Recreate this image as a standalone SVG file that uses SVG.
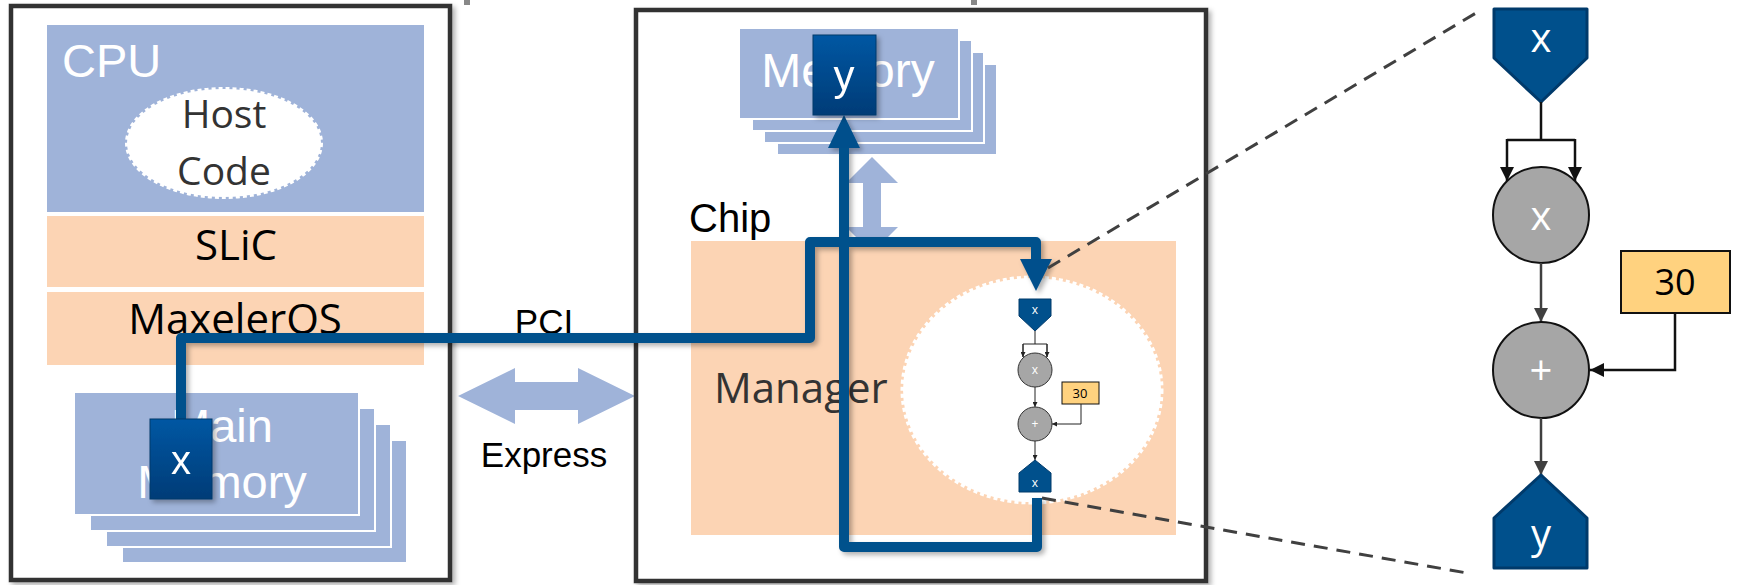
<svg xmlns="http://www.w3.org/2000/svg" width="1742" height="585" viewBox="0 0 1742 585">
<defs>
<style>
.box{fill:#fff;stroke:#333;stroke-width:4.5}
.lb{fill:#9FB3D9}
.peach{fill:#FCD4B4}
.mem{fill:#9FB3D9;stroke:#fff;stroke-width:2}
.ar{font-family:"Liberation Sans",Arial,sans-serif}
.cal{font-family:"Open Sans","Noto Sans",sans-serif}
.conn{fill:none;stroke:#00518C;stroke-width:10;stroke-linejoin:round}
.dash{fill:none;stroke:#404040;stroke-width:3;stroke-dasharray:14 9}
.pent{fill:#00508C;stroke:#003A6B;stroke-width:3;stroke-linejoin:round}
.pents{fill:#00508C;stroke:#003A6B;stroke-width:1;stroke-linejoin:round}
.op{fill:#A6A6A6;stroke:#111;stroke-width:2}
.ops{fill:#A6A6A6;stroke:#333;stroke-width:1}
.k{fill:#FFD27F;stroke:#111;stroke-width:2}
.ks{fill:#FFD27F;stroke:#111;stroke-width:1}
.e{fill:none;stroke:#111;stroke-width:2.5}
.eg{fill:none;stroke:#404040;stroke-width:2.5}
.es{fill:none;stroke:#222;stroke-width:1}
.blk{fill:#00508C}
.wt{fill:#fff}
</style>
<linearGradient id="bg" x1="0" y1="0" x2="0" y2="1"><stop offset="0" stop-color="#0057A3"/><stop offset="1" stop-color="#003C77"/></linearGradient>
<filter id="sh" x="-10%" y="-10%" width="130%" height="130%"><feDropShadow dx="3" dy="3" stdDeviation="2.5" flood-color="#000" flood-opacity="0.3"/></filter>
<marker id="ah" viewBox="0 0 10 10" refX="10" refY="5" markerUnits="userSpaceOnUse" markerWidth="15" markerHeight="14" orient="auto"><path d="M0,0 L10,5 L0,10 z" fill="#111"/></marker>
<marker id="ahg" viewBox="0 0 10 10" refX="10" refY="5" markerUnits="userSpaceOnUse" markerWidth="15" markerHeight="14" orient="auto"><path d="M0,0 L10,5 L0,10 z" fill="#404040"/></marker>
<marker id="ahs" viewBox="0 0 10 10" refX="10" refY="5" markerUnits="userSpaceOnUse" markerWidth="5" markerHeight="5" orient="auto"><path d="M0,0 L10,5 L0,10 z" fill="#222"/></marker>
</defs>

<rect x="464" y="0" width="6" height="5" fill="#888"/>
<rect x="971" y="0" width="6" height="5" fill="#888"/>

<g id="host">
<rect class="box" x="11" y="6" width="439" height="574" filter="url(#sh)"/>
<g id="cpu">
<rect class="lb" x="47" y="25" width="377" height="187"/>
<text class="ar wt" x="62" y="77" font-size="47">CPU</text>
<ellipse cx="224" cy="143" rx="97" ry="54" fill="#fff" stroke="#fff" stroke-width="4" stroke-dasharray="4 3"/>
<text class="cal" x="224" y="128" font-size="39" fill="#333" text-anchor="middle">Host</text>
<text class="cal" x="224" y="185" font-size="39" fill="#333" text-anchor="middle">Code</text>
</g>
<g id="slic">
<rect class="peach" x="47" y="216" width="377" height="71"/>
<text class="cal" x="236" y="260" font-size="42" fill="#000" text-anchor="middle">SLiC</text>
</g>
<g id="maxeleros">
<rect class="peach" x="47" y="292" width="377" height="73"/>
<text class="cal" x="235" y="334" font-size="42" fill="#000" text-anchor="middle">MaxelerOS</text>
</g>
<g id="main-memory">
<rect class="mem" x="122" y="440" width="285" height="123"/>
<rect class="mem" x="106" y="424" width="285" height="123"/>
<rect class="mem" x="90" y="408" width="285" height="123"/>
<rect class="mem" x="74" y="392" width="285" height="123"/>
<text class="ar wt" x="222" y="442" font-size="47" text-anchor="middle">Main</text>
<text class="ar wt" x="222" y="498" font-size="47" text-anchor="middle">Memory</text>
</g>
</g>

<g id="pcie">
<polygon class="lb" points="458,396 515,368 515,382 578,382 578,368 635,396 578,424 578,410 515,410 515,424"/>
<text class="ar" x="544" y="334" font-size="35" fill="#000" text-anchor="middle">PCI</text>
<text class="ar" x="544" y="467" font-size="35" fill="#000" text-anchor="middle">Express</text>
</g>

<g id="dfe">
<rect class="box" x="636" y="10" width="570" height="571" filter="url(#sh)"/>
<g id="dfe-memory">
<rect class="mem" x="777" y="64" width="220" height="91"/>
<rect class="mem" x="764" y="52" width="220" height="91"/>
<rect class="mem" x="752" y="40" width="220" height="91"/>
<rect class="mem" x="739" y="28" width="220" height="91"/>
<text class="ar wt" x="848" y="87" font-size="48" text-anchor="middle">Memory</text>
</g>
<polygon class="lb" points="872,157 898,183 881,183 881,227 898,227 872,253 846,227 863,227 863,183 846,183"/>
<text class="ar" x="689" y="232" font-size="40" fill="#000">Chip</text>
<g id="manager">
<rect class="peach" x="691" y="241" width="485" height="294"/>
<text class="cal" x="714" y="403" font-size="42" fill="#333">Manager</text>
<ellipse cx="1032" cy="390" rx="129" ry="112" fill="#fff" stroke="#fff" stroke-width="5" stroke-dasharray="4 3"/>
</g>
<g id="kernel-small">
<polygon class="pents" points="1019,299 1051,299 1051,316 1035,331 1019,316"/>
<text class="cal wt" x="1035" y="314" font-size="12" text-anchor="middle">x</text>
<path class="es" d="M1035,331 V344 M1023,357 V344 H1047 V357" marker-start="none"/>
<path class="es" d="M1023,344 V357" marker-end="url(#ahs)"/>
<path class="es" d="M1047,344 V357" marker-end="url(#ahs)"/>
<circle class="ops" cx="1035" cy="370" r="17"/>
<text class="cal wt" x="1035" y="374" font-size="12" text-anchor="middle">x</text>
<path class="es" d="M1035,387 V407" marker-end="url(#ahs)"/>
<rect class="ks" x="1062" y="382" width="37" height="22"/>
<text class="cal" x="1080" y="398" font-size="13" fill="#000" text-anchor="middle">30</text>
<path class="es" d="M1081,404 V424 H1052" marker-end="url(#ahs)"/>
<circle class="ops" cx="1035" cy="424" r="17"/>
<text class="cal wt" x="1035" y="428" font-size="12" text-anchor="middle">+</text>
<path class="es" d="M1035,441 V460" marker-end="url(#ahs)"/>
<polygon class="pents" points="1035,460 1051,473 1051,492 1019,492 1019,473"/>
<text class="cal wt" x="1035" y="487" font-size="12" text-anchor="middle">x</text>
</g>
</g>

<g id="connectors">
<g filter="url(#sh)">
<path class="conn" d="M181,419 V338 H810 V242 H1036 V262"/>
<polygon class="blk" points="1020,259 1052,259 1036,291"/>
<path class="conn" d="M1037,498 V547 H844 V146"/>
<polygon class="blk" points="828,148 860,148 844,115"/>
</g>
<path class="dash" d="M1048,268 L1476,13"/>
<path class="dash" d="M1042,498 L1467,573"/>
</g>

<g id="x-host" filter="url(#sh)">
<rect x="150" y="419" width="62" height="80" fill="url(#bg)" stroke="#003A6B" stroke-width="1"/>
<text class="ar wt" x="181" y="474" font-size="40" text-anchor="middle">x</text>
</g>
<g id="y-dfe" filter="url(#sh)">
<rect x="813" y="35" width="63" height="80" fill="url(#bg)" stroke="#003A6B" stroke-width="1"/>
<text class="ar wt" x="844" y="90" font-size="42" text-anchor="middle">y</text>
</g>

<g id="kernel-large">
<g id="in-x">
<polygon class="pent" points="1494,9 1587,9 1587,58 1541,102 1494,58"/>
<text class="cal wt" x="1541" y="52" font-size="40" text-anchor="middle">x</text>
</g>
<path class="e" d="M1541,102 V140 M1507,140 H1575"/>
<path class="e" d="M1507,139 V181" marker-end="url(#ah)"/>
<path class="e" d="M1575,139 V181" marker-end="url(#ah)"/>
<g id="mul">
<circle class="op" cx="1541" cy="215" r="48"/>
<text class="cal wt" x="1541" y="230" font-size="40" text-anchor="middle">x</text>
</g>
<path class="eg" d="M1541,263 V322" marker-end="url(#ahg)"/>
<g id="const30">
<rect class="k" x="1621" y="251" width="109" height="62"/>
<text class="cal" x="1675" y="295" font-size="36" fill="#000" text-anchor="middle">30</text>
</g>
<path class="e" d="M1675,313 V370 H1590" marker-end="url(#ah)"/>
<g id="add">
<circle class="op" cx="1541" cy="370" r="48"/>
<text class="cal wt" x="1541" y="385" font-size="40" text-anchor="middle">+</text>
</g>
<path class="eg" d="M1541,418 V475" marker-end="url(#ahg)"/>
<g id="out-y">
<polygon class="pent" points="1541,475 1587,518 1587,568 1494,568 1494,518"/>
<text class="cal wt" x="1541" y="548" font-size="40" text-anchor="middle">y</text>
</g>
</g>
</svg>
